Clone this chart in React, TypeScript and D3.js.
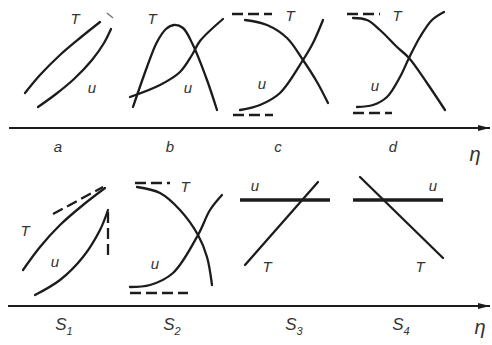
import React from "react";
import * as d3 from "d3";

// eta in tenths of a pixel-ish unit, value per row (0 = row bottom)
const aT: [number, number][] = [[2.5, 2.4], [4.0, 4.2], [6.0, 6.2], [8.0, 7.9], [10.0, 9.5]];
const aU: [number, number][] = [[3.8, 1.0], [5.6, 2.3], [7.4, 3.8], [9.2, 5.7], [10.4, 7.4], [11.1, 8.8]];
const aMark: [number, number][] = [[10.7, 10.4], [11.3, 9.9]];

const bT: [number, number][] = [[13.3, 1.0], [14.7, 5.0], [15.7, 7.5], [16.6, 8.8], [17.4, 9.2], [18.3, 8.9], [19.3, 7.2], [20.7, 3.7], [21.7, 0.7]];
const bU: [number, number][] = [[13.0, 2.0], [16.0, 3.2], [18.0, 4.5], [19.2, 6.2], [20.0, 7.6], [22.3, 9.8]];

const cT: [number, number][] = [[24.5, 9.7], [26.7, 9.2], [28.7, 7.9], [30.3, 5.7], [31.7, 3.5], [32.8, 1.4]];
const cU: [number, number][] = [[24.0, 0.7], [26.0, 1.2], [28.0, 2.4], [30.3, 5.7], [31.3, 7.4], [32.3, 9.7]];
const cTopDash: [number, number][] = [[23.2, 10.3], [27.2, 10.3]];
const cBotDash: [number, number][] = [[23.3, 0.2], [27.3, 0.2]];

const dT: [number, number][] = [[35.3, 9.9], [36.7, 9.7], [38.0, 8.7], [39.7, 7.0], [40.9, 5.9], [42.7, 3.4], [44.5, 0.7]];
const dU: [number, number][] = [[35.7, 1.0], [37.3, 1.2], [38.7, 2.0], [40.0, 4.0], [40.9, 5.9], [42.0, 8.0], [43.2, 9.7], [44.4, 10.5]];
const dTopDash: [number, number][] = [[34.7, 10.3], [38.0, 10.3]];
const dBotDash: [number, number][] = [[35.3, 0.4], [39.2, 0.4]];

const s1T: [number, number][] = [[2.3, 2.7], [4.0, 5.0], [6.0, 7.2], [8.3, 9.2], [10.5, 10.9]];
const s1U: [number, number][] = [[3.5, 0.2], [6.0, 1.7], [8.3, 4.0], [10.0, 6.7], [10.8, 8.7]];
const s1Tangent: [number, number][] = [[5.3, 8.3], [10.3, 11.0]];
const s1Vert: [number, number][] = [[10.8, 8.5], [10.8, 3.7]];

const s2T: [number, number][] = [[13.7, 11.0], [16.0, 10.4], [18.0, 8.7], [19.8, 6.2], [20.7, 4.0], [21.2, 1.2]];
const s2U: [number, number][] = [[13.0, 1.0], [15.0, 1.2], [17.3, 2.4], [19.8, 6.2], [21.0, 8.7], [22.2, 10.2]];
const s2TopDash: [number, number][] = [[13.5, 11.4], [17.0, 11.4]];
const s2BotDash: [number, number][] = [[13.0, 0.4], [18.8, 0.4]];

const s3U: [number, number][] = [[24.0, 9.7], [33.0, 9.7]];
const s3T: [number, number][] = [[24.5, 3.2], [31.8, 11.5]];
const s4U: [number, number][] = [[35.3, 9.7], [44.3, 9.7]];
const s4T: [number, number][] = [[36.0, 12.0], [44.3, 3.9]];

const topLabels = ["a", "b", "c", "d"];
const topLabelEta = [5.8, 17.0, 27.8, 39.3];
const botLabelSub = ["1", "2", "3", "4"];
const botLabelEta = [6.4, 17.2, 29.4, 40.1];

const curveLabels: { row: number; text: string; eta: number; v: number }[] = [
  { row: 0, text: "T", eta: 7.5, v: 9.7 },
  { row: 0, text: "u", eta: 9.2, v: 2.8 },
  { row: 0, text: "T", eta: 15.2, v: 9.7 },
  { row: 0, text: "u", eta: 18.8, v: 2.8 },
  { row: 0, text: "T", eta: 29.0, v: 10.0 },
  { row: 0, text: "u", eta: 26.2, v: 3.2 },
  { row: 0, text: "T", eta: 39.7, v: 10.0 },
  { row: 0, text: "u", eta: 37.5, v: 3.0 },
  { row: 1, text: "T", eta: 2.5, v: 6.5 },
  { row: 1, text: "u", eta: 5.5, v: 3.4 },
  { row: 1, text: "T", eta: 18.5, v: 10.9 },
  { row: 1, text: "u", eta: 15.5, v: 3.2 },
  { row: 1, text: "u", eta: 25.5, v: 11.0 },
  { row: 1, text: "T", eta: 26.7, v: 2.9 },
  { row: 1, text: "u", eta: 43.3, v: 11.0 },
  { row: 1, text: "T", eta: 42.0, v: 2.9 },
];

const W = 492;
const H = 345;
const ink = "#1c1c1c";
const font = "'Liberation Sans', 'DejaVu Sans', sans-serif";

export default function App() {
  const x = d3.scaleLinear().domain([0, 49.2]).range([0, W]);
  const yTop = d3.scaleLinear().domain([0, 10.5]).range([117, 12]);
  const yBot = d3.scaleLinear().domain([0, 11.5]).range([297, 182]);
  const axisTop = 128;
  const axisBot = 306;

  const curve = (y: d3.ScaleLinear<number, number>) =>
    d3
      .line<[number, number]>()
      .x((d) => x(d[0]))
      .y((d) => y(d[1]))
      .curve(d3.curveCatmullRom.alpha(0.5));

  const top = curve(yTop);
  const bot = curve(yBot);

  const solidTop = [aT, aU, bT, bU, cT, cU, dT, dU];
  const dashTop = [cTopDash, cBotDash, dTopDash, dBotDash];
  const solidBot = [s1T, s1U, s2T, s2U, s3T, s4T];
  const dashBot = [s1Tangent, s1Vert, s2TopDash, s2BotDash];

  return (
    <svg width={W} height={H} style={{ position: "absolute", left: 0, top: 0, background: "#fff" }}>
      <defs>
        <marker id="arr" viewBox="0 0 12 6" refX="12" refY="3" markerWidth="12" markerHeight="6" markerUnits="userSpaceOnUse" orient="auto">
          <path d="M0,0 L12,3 L0,6 Z" fill={ink} />
        </marker>
      </defs>

      {/* axes */}
      <line x1={9} x2={490} y1={axisTop} y2={axisTop} stroke={ink} strokeWidth={2} markerEnd="url(#arr)" />
      <line x1={8} x2={490} y1={axisBot} y2={axisBot} stroke={ink} strokeWidth={2} markerEnd="url(#arr)" />

      {solidTop.map((d, i) => (
        <path key={"st" + i} d={top(d) ?? ""} fill="none" stroke={ink} strokeWidth={2.3} strokeLinecap="round" />
      ))}
      <path d={top(aMark) ?? ""} fill="none" stroke="#777" strokeWidth={1.5} />
      {dashTop.map((d, i) => (
        <path key={"dt" + i} d={top(d) ?? ""} fill="none" stroke={ink} strokeWidth={2.3} strokeDasharray="11 5" />
      ))}

      {solidBot.map((d, i) => (
        <path key={"sb" + i} d={bot(d) ?? ""} fill="none" stroke={ink} strokeWidth={2.3} strokeLinecap="round" />
      ))}
      {[s3U, s4U].map((d, i) => (
        <path key={"ub" + i} d={bot(d) ?? ""} fill="none" stroke={ink} strokeWidth={3.4} />
      ))}
      {dashBot.map((d, i) => (
        <path key={"db" + i} d={bot(d) ?? ""} fill="none" stroke={ink} strokeWidth={2.3} strokeDasharray="11 5" />
      ))}

      {curveLabels.map((l, i) => (
        <text
          key={"cl" + i}
          x={x(l.eta)}
          y={(l.row === 0 ? yTop : yBot)(l.v)}
          textAnchor="middle"
          dominantBaseline="middle"
          fontFamily={font}
          fontStyle="italic"
          fontSize={15}
          fill="#333"
        >
          {l.text}
        </text>
      ))}

      {topLabels.map((t, i) => (
        <text key={"tl" + i} x={x(topLabelEta[i])} y={152} textAnchor="middle" fontFamily={font} fontStyle="italic" fontSize={15} fill="#333">
          {t}
        </text>
      ))}
      <text x={475} y={161} textAnchor="middle" fontFamily={font} fontStyle="italic" fontSize={20} fill="#333">η</text>

      {botLabelSub.map((t, i) => (
        <text key={"bl" + i} x={x(botLabelEta[i])} y={330} textAnchor="middle" fontFamily={font} fontStyle="italic" fontSize={17} fill="#333">
          S
          <tspan fontSize={11} dy={5}>{t}</tspan>
        </text>
      ))}
      <text x={480} y={334} textAnchor="middle" fontFamily={font} fontStyle="italic" fontSize={20} fill="#333">η</text>
    </svg>
  );
}
